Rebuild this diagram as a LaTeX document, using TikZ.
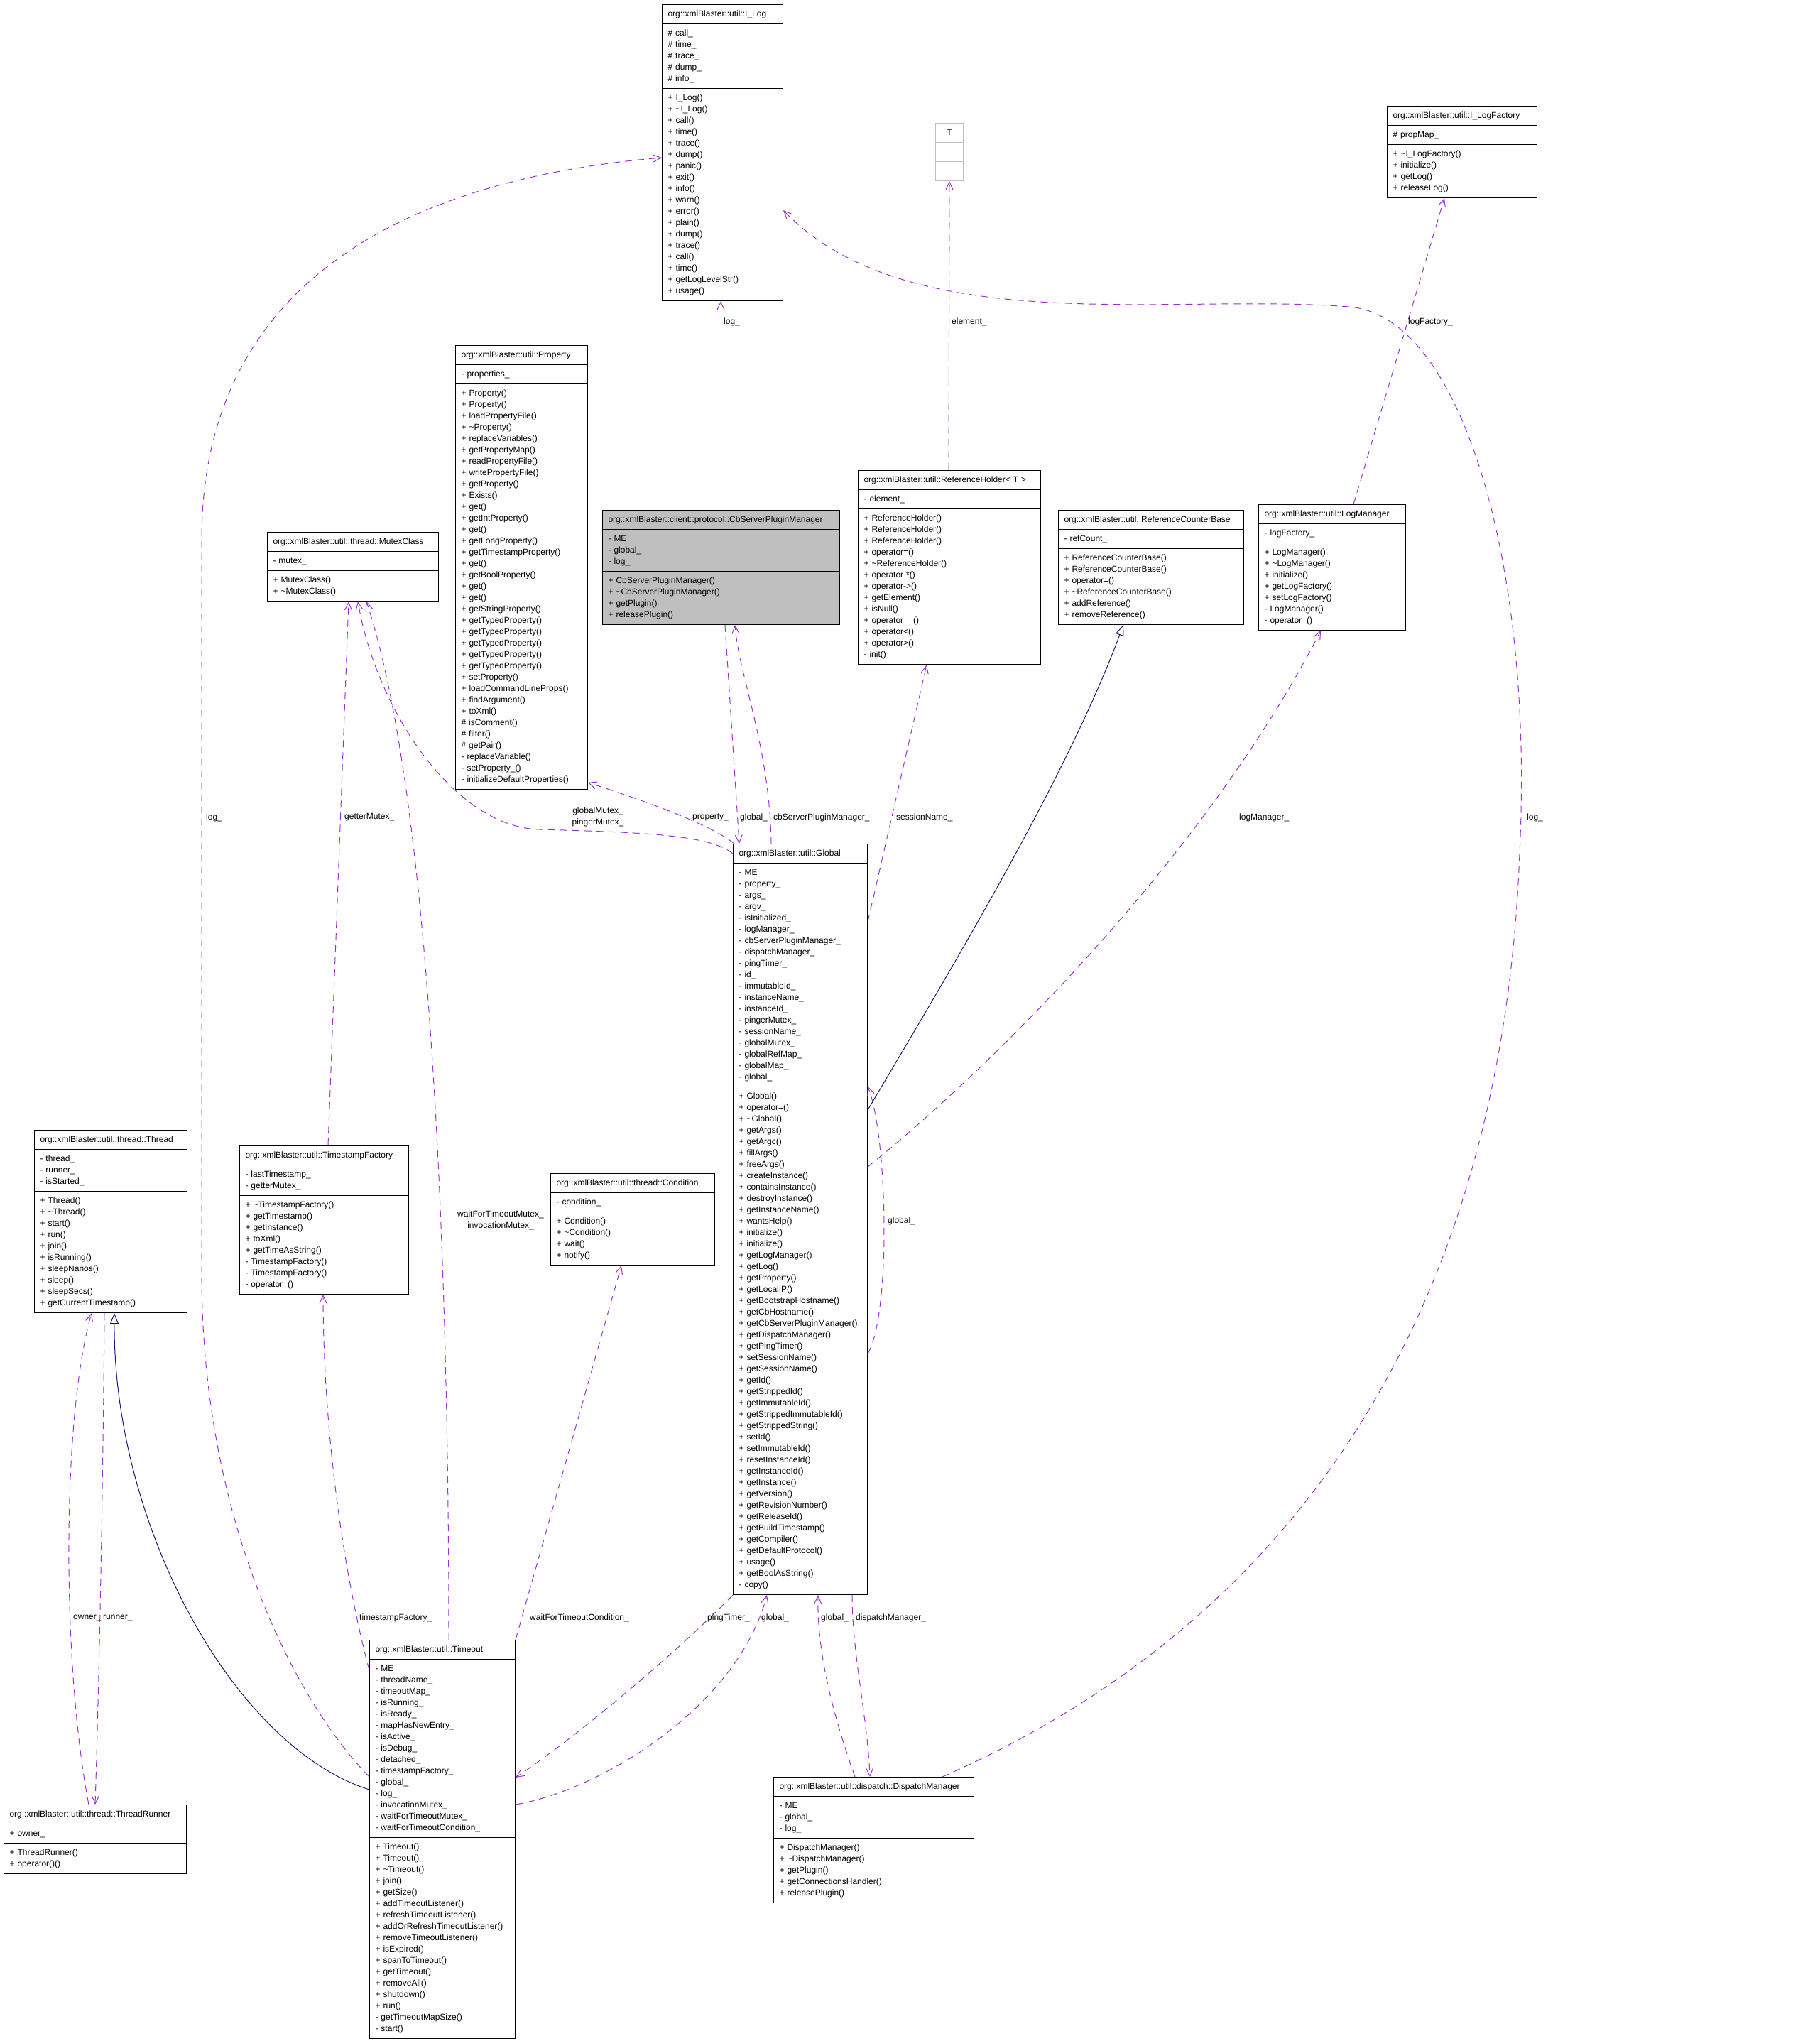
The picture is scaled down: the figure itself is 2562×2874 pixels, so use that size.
\documentclass[tikz,border=0pt]{standalone}
\usepackage{fontspec}
\setmainfont{Liberation Sans}
\usetikzlibrary{shapes.multipart,arrows.meta}

\definecolor{usecol}{HTML}{9A32CD}
\definecolor{isacol}{HTML}{191970}
\definecolor{hilite}{HTML}{BFBFBF}

\newcommand\clsfont{\fontsize{12}{16}\selectfont}
\newcommand\tld{\textasciitilde}
\newcommand\clsparts[3]{\strut#1\strut\nodepart{two}\strut#2\strut\nodepart{three}\strut#3\strut}

\tikzset{
  cls/.style={rectangle split, rectangle split parts=3, draw, fill=white, line width=1pt,
    anchor=north west, text width=#1, align=left, inner xsep=8pt, inner ysep=5pt, font=\clsfont},
  uses/.style={draw=usecol, line width=1pt, dash pattern=on 10pt off 7pt,
    -{Straight Barb[length=11pt,width=10pt]}},
  isa/.style={draw=isacol, line width=1pt, -{Triangle[length=15pt,width=12pt,fill=white]}},
  lbl/.style={anchor=west, inner sep=0pt, font=\clsfont},
}

\begin{document}
\begin{tikzpicture}[x=1pt,y=-1pt]
  \useasboundingbox (0,0) rectangle (2562,2874);

  % classes
  \node[cls=154pt] (ilog) at (932,6) {\clsparts{org::xmlBlaster::util::I\_Log}
    {\# call\_\\\# time\_\\\# trace\_\\\# dump\_\\\# info\_}
    {+ I\_Log()\\+ \tld I\_Log()\\+ call()\\+ time()\\+ trace()\\+ dump()\\+ panic()\\+ exit()\\+ info()\\+ warn()\\+ error()\\+ plain()\\+ dump()\\+ trace()\\+ call()\\+ time()\\+ getLogLevelStr()\\+ usage()}};

  \node[cls=23pt, draw=hilite, align=center] (tparam) at (1317,173) {\clsparts{T}{}{}};

  \node[cls=195pt] (ilogf) at (1953,149) {\clsparts{org::xmlBlaster::util::I\_LogFactory}
    {\# propMap\_}
    {+ \tld I\_LogFactory()\\+ initialize()\\+ getLog()\\+ releaseLog()}};

  \node[cls=170pt] (prop) at (641,486) {\clsparts{org::xmlBlaster::util::Property}
    {- properties\_}
    {+ Property()\\+ Property()\\+ loadPropertyFile()\\+ \tld Property()\\+ replaceVariables()\\+ getPropertyMap()\\+ readPropertyFile()\\+ writePropertyFile()\\+ getProperty()\\+ Exists()\\+ get()\\+ getIntProperty()\\+ get()\\+ getLongProperty()\\+ getTimestampProperty()\\+ get()\\+ getBoolProperty()\\+ get()\\+ get()\\+ getStringProperty()\\+ getTypedProperty()\\+ getTypedProperty()\\+ getTypedProperty()\\+ getTypedProperty()\\+ getTypedProperty()\\+ setProperty()\\+ loadCommandLineProps()\\+ findArgument()\\+ toXml()\\\# isComment()\\\# filter()\\\# getPair()\\- replaceVariable()\\- setProperty\_()\\- initializeDefaultProperties()}};

  \node[cls=225pt] (mutex) at (376,749) {\clsparts{org::xmlBlaster::util::thread::MutexClass}
    {- mutex\_}
    {+ MutexClass()\\+ \tld MutexClass()}};

  \node[cls=318pt, fill=hilite] (cbspm) at (848,718) {\clsparts{org::xmlBlaster::client::protocol::CbServerPluginManager}
    {- ME\\- global\_\\- log\_}
    {+ CbServerPluginManager()\\+ \tld CbServerPluginManager()\\+ getPlugin()\\+ releasePlugin()}};

  \node[cls=241pt] (refh) at (1208,662) {\clsparts{org::xmlBlaster::util::ReferenceHolder< T >}
    {- element\_}
    {+ ReferenceHolder()\\+ ReferenceHolder()\\+ ReferenceHolder()\\+ operator=()\\+ \tld ReferenceHolder()\\+ operator *()\\+ operator->()\\+ getElement()\\+ isNull()\\+ operator==()\\+ operator<()\\+ operator>()\\- init()}};

  \node[cls=245pt] (refc) at (1490,718) {\clsparts{org::xmlBlaster::util::ReferenceCounterBase}
    {- refCount\_}
    {+ ReferenceCounterBase()\\+ ReferenceCounterBase()\\+ operator=()\\+ \tld ReferenceCounterBase()\\+ addReference()\\+ removeReference()}};

  \node[cls=191pt] (logm) at (1772,710) {\clsparts{org::xmlBlaster::util::LogManager}
    {- logFactory\_}
    {+ LogManager()\\+ \tld LogManager()\\+ initialize()\\+ getLogFactory()\\+ setLogFactory()\\- LogManager()\\- operator=()}};

  \node[cls=173pt] (glob) at (1032,1188) {\clsparts{org::xmlBlaster::util::Global}
    {- ME\\- property\_\\- args\_\\- argv\_\\- isInitialized\_\\- logManager\_\\- cbServerPluginManager\_\\- dispatchManager\_\\- pingTimer\_\\- id\_\\- immutableId\_\\- instanceName\_\\- instanceId\_\\- pingerMutex\_\\- sessionName\_\\- globalMutex\_\\- globalRefMap\_\\- globalMap\_\\- global\_}
    {+ Global()\\+ operator=()\\+ \tld Global()\\+ getArgs()\\+ getArgc()\\+ fillArgs()\\+ freeArgs()\\+ createInstance()\\+ containsInstance()\\+ destroyInstance()\\+ getInstanceName()\\+ wantsHelp()\\+ initialize()\\+ initialize()\\+ getLogManager()\\+ getLog()\\+ getProperty()\\+ getLocalIP()\\+ getBootstrapHostname()\\+ getCbHostname()\\+ getCbServerPluginManager()\\+ getDispatchManager()\\+ getPingTimer()\\+ setSessionName()\\+ getSessionName()\\+ getId()\\+ getStrippedId()\\+ getImmutableId()\\+ getStrippedImmutableId()\\+ getStrippedString()\\+ setId()\\+ setImmutableId()\\+ resetInstanceId()\\+ getInstanceId()\\+ getInstance()\\+ getVersion()\\+ getRevisionNumber()\\+ getReleaseId()\\+ getBuildTimestamp()\\+ getCompiler()\\+ getDefaultProtocol()\\+ usage()\\+ getBoolAsString()\\- copy()}};

  \node[cls=199pt] (thread) at (48,1591) {\clsparts{org::xmlBlaster::util::thread::Thread}
    {- thread\_\\- runner\_\\- isStarted\_}
    {+ Thread()\\+ \tld Thread()\\+ start()\\+ run()\\+ join()\\+ isRunning()\\+ sleepNanos()\\+ sleep()\\+ sleepSecs()\\+ getCurrentTimestamp()}};

  \node[cls=222pt] (tsf) at (337,1613) {\clsparts{org::xmlBlaster::util::TimestampFactory}
    {- lastTimestamp\_\\- getterMutex\_}
    {+ \tld TimestampFactory()\\+ getTimestamp()\\+ getInstance()\\+ toXml()\\+ getTimeAsString()\\- TimestampFactory()\\- TimestampFactory()\\- operator=()}};

  \node[cls=215pt] (cond) at (775,1652) {\clsparts{org::xmlBlaster::util::thread::Condition}
    {- condition\_}
    {+ Condition()\\+ \tld Condition()\\+ wait()\\+ notify()}};

  \node[cls=189pt] (tmo) at (520,2309) {\clsparts{org::xmlBlaster::util::Timeout}
    {- ME\\- threadName\_\\- timeoutMap\_\\- isRunning\_\\- isReady\_\\- mapHasNewEntry\_\\- isActive\_\\- isDebug\_\\- detached\_\\- timestampFactory\_\\- global\_\\- log\_\\- invocationMutex\_\\- waitForTimeoutMutex\_\\- waitForTimeoutCondition\_}
    {+ Timeout()\\+ Timeout()\\+ \tld Timeout()\\+ join()\\+ getSize()\\+ addTimeoutListener()\\+ refreshTimeoutListener()\\+ addOrRefreshTimeoutListener()\\+ removeTimeoutListener()\\+ isExpired()\\+ spanToTimeout()\\+ getTimeout()\\+ removeAll()\\+ shutdown()\\+ run()\\- getTimeoutMapSize()\\- start()}};

  \node[cls=241pt] (trun) at (5,2541) {\clsparts{org::xmlBlaster::util::thread::ThreadRunner}
    {+ owner\_}
    {+ ThreadRunner()\\+ operator()()}};

  \node[cls=266pt] (dm) at (1089,2502) {\clsparts{org::xmlBlaster::util::dispatch::DispatchManager}
    {- ME\\- global\_\\- log\_}
    {+ DispatchManager()\\+ \tld DispatchManager()\\+ getPlugin()\\+ getConnectionsHandler()\\+ releasePlugin()}};

  % usage edges
  \draw[uses] ([xshift=167]cbspm.north west) -- ([xshift=83]ilog.south west);
  \draw[uses] ([xshift=128]refh.north west) -- (tparam.south);
  \draw[uses] ([xshift=134]logm.north west) -- ([xshift=81]ilogf.south west);
  \draw[uses] ([xshift=238]dm.north west) .. controls (1900,2250) and (2120,1750) .. (2140,1200)
      .. controls (2160,800) and (2060,445) .. (1900,432)
      .. controls (1650,412) and (1280,480) .. ([yshift=-290]ilog.north east);
  \draw[uses] ([yshift=-193]tmo.north west) .. controls (420,2400) and (286,2150) .. (284,1800)
      -- (284,760) .. controls (284,380) and (600,250) .. ([yshift=-216]ilog.north west);
  \draw[uses] ([xshift=125]tsf.north west) -- ([xshift=115]mutex.south west);
  \draw[uses] ([xshift=112]tmo.north west) .. controls (632,1700) and (600,1100) .. ([xshift=140]mutex.south west);
  \draw[uses] ([yshift=-14]glob.north west) .. controls (1000,1175) and (900,1172) .. (760,1168)
      .. controls (640,1165) and (530,1000) .. ([xshift=128]mutex.south west);
  \draw[uses] ([xshift=2]glob.north west) .. controls (1000,1160) and (900,1125) .. ([yshift=10]prop.south east);
  \draw[uses] ([xshift=173]cbspm.south west) -- ([xshift=9]glob.north west);
  \draw[uses] ([xshift=54]glob.north west) .. controls (1084,1050) and (1040,950) .. ([xshift=187]cbspm.south west);
  \draw[uses] ([yshift=-110]glob.north east) -- ([xshift=97]refh.south west);
  \draw[uses] ([yshift=-455]glob.north east) .. controls (1400,1500) and (1700,1200) .. ([xshift=88]logm.south west);
  \draw[uses] ([yshift=-718]glob.north east) .. controls (1255,1850) and (1250,1600) .. ([yshift=-342]glob.north east);
  \draw[uses] (tmo.north east) -- ([xshift=100]cond.south west);
  \draw[uses] ([yshift=-43]tmo.north west) .. controls (480,2200) and (455,2000) .. ([xshift=118]tsf.south west);
  \draw[uses] ([xshift=120]trun.north west) .. controls (88,2350) and (86,2000) .. ([xshift=81]thread.south west);
  \draw[uses] ([xshift=99]thread.south west) .. controls (145,2100) and (140,2350) .. ([xshift=129]trun.north west);
  \draw[uses] (glob.south west) .. controls (960,2320) and (820,2440) .. ([yshift=-194]tmo.north east);
  \draw[uses] ([yshift=-232]tmo.north east) .. controls (850,2520) and (1040,2400) .. ([xshift=48]glob.south west);
  \draw[uses] ([xshift=115]dm.north west) .. controls (1175,2420) and (1150,2330) .. ([xshift=120]glob.south west);
  \draw[uses] ([xshift=168]glob.south west) .. controls (1200,2330) and (1222,2420) .. ([xshift=136]dm.north west);

  % inheritance
  \draw[isa] ([yshift=-375]glob.north east) .. controls (1330,1380) and (1500,1100) .. ([xshift=92]refc.south west);
  \draw[isa] ([yshift=-211]tmo.north west) .. controls (330,2460) and (160,2150) .. ([xshift=113]thread.south west);

  % edge labels
  \node[lbl] (lb-cblog) at (1019,453) {log\_};
  \node[lbl] (lb-elem) at (1340,453) {element\_};
  \node[lbl] (lb-logf) at (1983,453) {logFactory\_};
  \node[lbl] (lb-dmlog) at (2150,1151) {log\_};
  \node[lbl] (lb-tmolog) at (290,1151) {log\_};
  \node[lbl] (lb-getter) at (485,1151) {getterMutex\_};
  \node[lbl, anchor=center, align=center] (lb-gmutex) at (842,1150) {globalMutex\_\\pingerMutex\_};
  \node[lbl] (lb-prop) at (975,1151) {property\_};
  \node[lbl] (lb-cbglob) at (1042,1151) {global\_};
  \node[lbl] (lb-cbspm) at (1089,1151) {cbServerPluginManager\_};
  \node[lbl] (lb-sess) at (1262,1151) {sessionName\_};
  \node[lbl] (lb-logm) at (1745,1151) {logManager\_};
  \node[lbl] (lb-self) at (1250,1719) {global\_};
  \node[lbl, anchor=center, align=center] (lb-tmutex) at (705,1718) {waitForTimeoutMutex\_\\invocationMutex\_};
  \node[lbl] (lb-owner) at (103,2278) {owner\_};
  \node[lbl] (lb-runner) at (145,2278) {runner\_};
  \node[lbl] (lb-tsf) at (506,2278) {timestampFactory\_};
  \node[lbl] (lb-cond) at (746,2278) {waitForTimeoutCondition\_};
  \node[lbl] (lb-ping) at (996,2278) {pingTimer\_};
  \node[lbl] (lb-tmoglob) at (1072,2278) {global\_};
  \node[lbl] (lb-dmglob) at (1156,2278) {global\_};
  \node[lbl] (lb-dispm) at (1205,2278) {dispatchManager\_};
\end{tikzpicture}
\end{document}
